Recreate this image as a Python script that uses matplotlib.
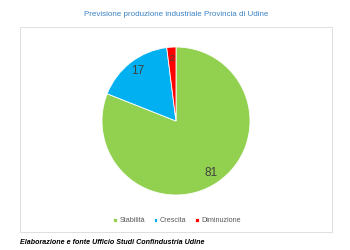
import matplotlib.pyplot as plt
from matplotlib.patches import Rectangle

TITLE = "Previsione produzione industriale Provincia di Udine"
CATEGORIES = ["Stabilità", "Crescita", "Diminuzione"]
VALUES = [81, 17, 2]
COLORS = ["#92D050", "#00B0F0", "#FF0000"]
CAPTION = "Elaborazione e fonte Ufficio Studi Confindustria Udine"

W, H = 350, 250
plt.rcParams["font.family"] = ["Liberation Sans", "DejaVu Sans"]

fig = plt.figure(figsize=(W / 100, H / 100), dpi=100)
fig.patch.set_facecolor("white")


def px(x, y):
    # pixel coords (top-left origin) -> figure fraction
    return x / W, 1 - y / H


# chart frame
x0, y0 = px(20, 232)
x1, y1 = px(332, 27)
fig.patches.append(Rectangle((x0, y0), x1 - x0, y1 - y0, transform=fig.transFigure,
                             facecolor="white", edgecolor="#D9D9D9", linewidth=0.6,
                             zorder=-5))

tx, ty = px(176, 15)
fig.text(tx, ty, TITLE, ha="center", va="center", fontsize=5.8, color="#3B82C4")

# pie
cx, cy, r = 176, 121, 74
ax = fig.add_axes([(cx - r) / W, 1 - (cy + r) / H, 2 * r / W, 2 * r / H])
ax.patch.set_visible(False)
wedges, texts = ax.pie(VALUES, labels=[str(v) for v in VALUES], colors=COLORS,
                       startangle=90, counterclock=False, labeldistance=0.85,
                       wedgeprops=dict(edgecolor="white", linewidth=0.6),
                       textprops=dict(fontsize=8.5, color="#404040", ha="center", va="center"))
texts[2].set_fontsize(6.5)
ax.set_xlim(-1, 1)
ax.set_ylim(-1, 1)
ax.set_aspect("equal")
ax.axis("off")

lx, ly = px(177, 221)
leg = fig.legend(wedges, CATEGORIES, loc="center", bbox_to_anchor=(lx, ly), ncol=3,
                 frameon=False, fontsize=5.2, handlelength=0.5, handleheight=0.5,
                 handletextpad=0.35, columnspacing=1.2, labelcolor="#595959")

cx0, cy0 = px(20, 243)
fig.text(cx0, cy0, CAPTION, ha="left", va="center", fontsize=5.1,
         fontweight="bold", fontstyle="italic", color="black")

fig.savefig("out.png", dpi=100)
